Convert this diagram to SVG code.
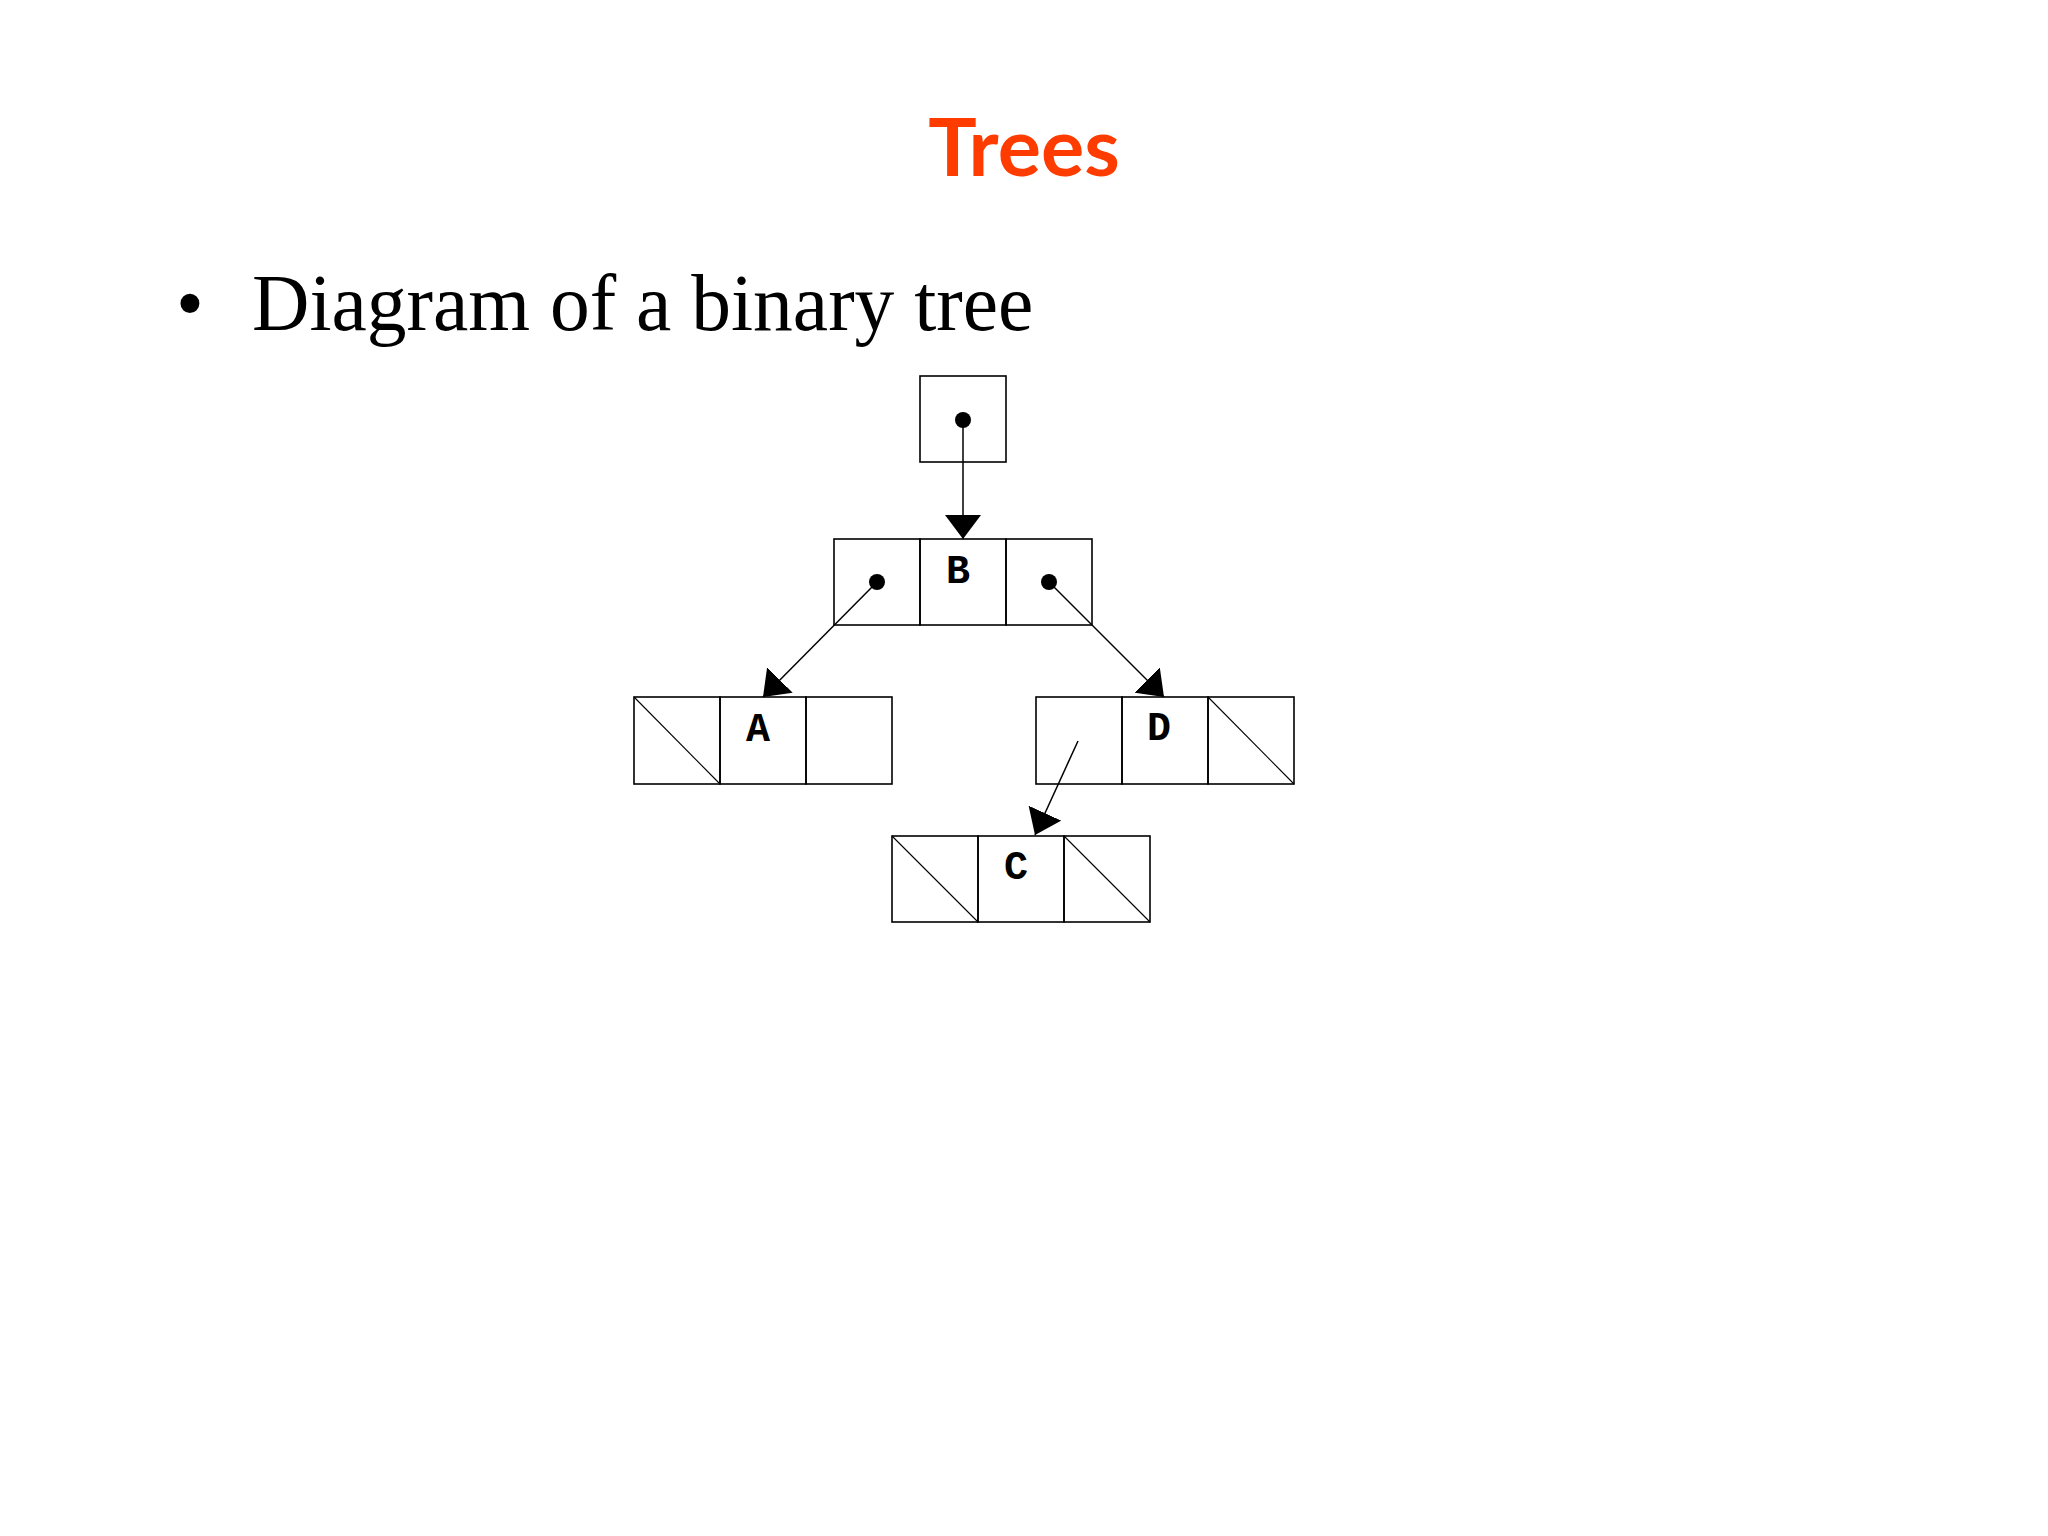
<svg xmlns="http://www.w3.org/2000/svg" width="2048" height="1536" viewBox="0 0 2048 1536">
<style>
.cell{fill:none;stroke:#000;stroke-width:1.6}
.slash{stroke:#000;stroke-width:1.1}
.conn{stroke:#000;stroke-width:1.5;fill:none}
.dot{fill:#000}
.lbl{font-family:"Liberation Mono","Courier New",monospace;font-weight:bold;font-size:40px;text-anchor:middle;fill:#000}
</style>
<defs>
<marker id="ah" viewBox="0 0 24 36" refX="24" refY="18" markerWidth="24" markerHeight="36" markerUnits="userSpaceOnUse" orient="auto">
<path d="M0,0 L24,18 L0,36 z" fill="#000"/>
</marker>
</defs>
<rect width="2048" height="1536" fill="#fff"/>
<text x="1024" y="176" font-family="Lato,'Open Sans',sans-serif" font-weight="bold" font-size="81" fill="#FF3C00" text-anchor="middle">Trees</text>
<text x="176" y="330" font-family="'Liberation Serif','Times New Roman',serif" font-size="79.5" fill="#000">•</text>
<text x="252" y="330" font-family="'Liberation Serif','Times New Roman',serif" font-size="79.5" fill="#000">Diagram of a binary tree</text>

<g id="root">
<rect class="cell" x="920" y="376" width="86" height="86"/>
<circle class="dot" cx="963" cy="420" r="8"/>
</g>
<g id="nodeB">
<rect class="cell" x="834" y="539" width="86" height="86"/>
<rect class="cell" x="920" y="539" width="86" height="86"/>
<rect class="cell" x="1006" y="539" width="86" height="86"/>
<text class="lbl" x="958" y="582.5">B</text>
<circle class="dot" cx="877" cy="582" r="8"/>
<circle class="dot" cx="1049" cy="582" r="8"/>
</g>
<g id="nodeA">
<rect class="cell" x="634" y="697" width="86" height="87"/>
<rect class="cell" x="720" y="697" width="86" height="87"/>
<rect class="cell" x="806" y="697" width="86" height="87"/>
<line class="slash" x1="634" y1="697" x2="720" y2="784"/>
<text class="lbl" x="758" y="740.5">A</text>
</g>
<g id="nodeD">
<rect class="cell" x="1036" y="697" width="86" height="87"/>
<rect class="cell" x="1122" y="697" width="86" height="87"/>
<rect class="cell" x="1208" y="697" width="86" height="87"/>
<line class="slash" x1="1208" y1="697" x2="1294" y2="784"/>
<text class="lbl" x="1159" y="740">D</text>
</g>
<g id="nodeC">
<rect class="cell" x="892" y="836" width="86" height="86"/>
<rect class="cell" x="978" y="836" width="86" height="86"/>
<rect class="cell" x="1064" y="836" width="86" height="86"/>
<line class="slash" x1="892" y1="836" x2="978" y2="922"/>
<line class="slash" x1="1064" y1="836" x2="1150" y2="922"/>
<text class="lbl" x="1016" y="878.5">C</text>
</g>
<g id="connectors">
<line class="conn" x1="963" y1="420" x2="963" y2="539" marker-end="url(#ah)"/>
<line class="conn" x1="877" y1="582" x2="763" y2="697" marker-end="url(#ah)"/>
<line class="conn" x1="1049" y1="582" x2="1164" y2="697" marker-end="url(#ah)"/>
<line class="conn" x1="1078" y1="741" x2="1035" y2="835" marker-end="url(#ah)"/>
</g>
</svg>
